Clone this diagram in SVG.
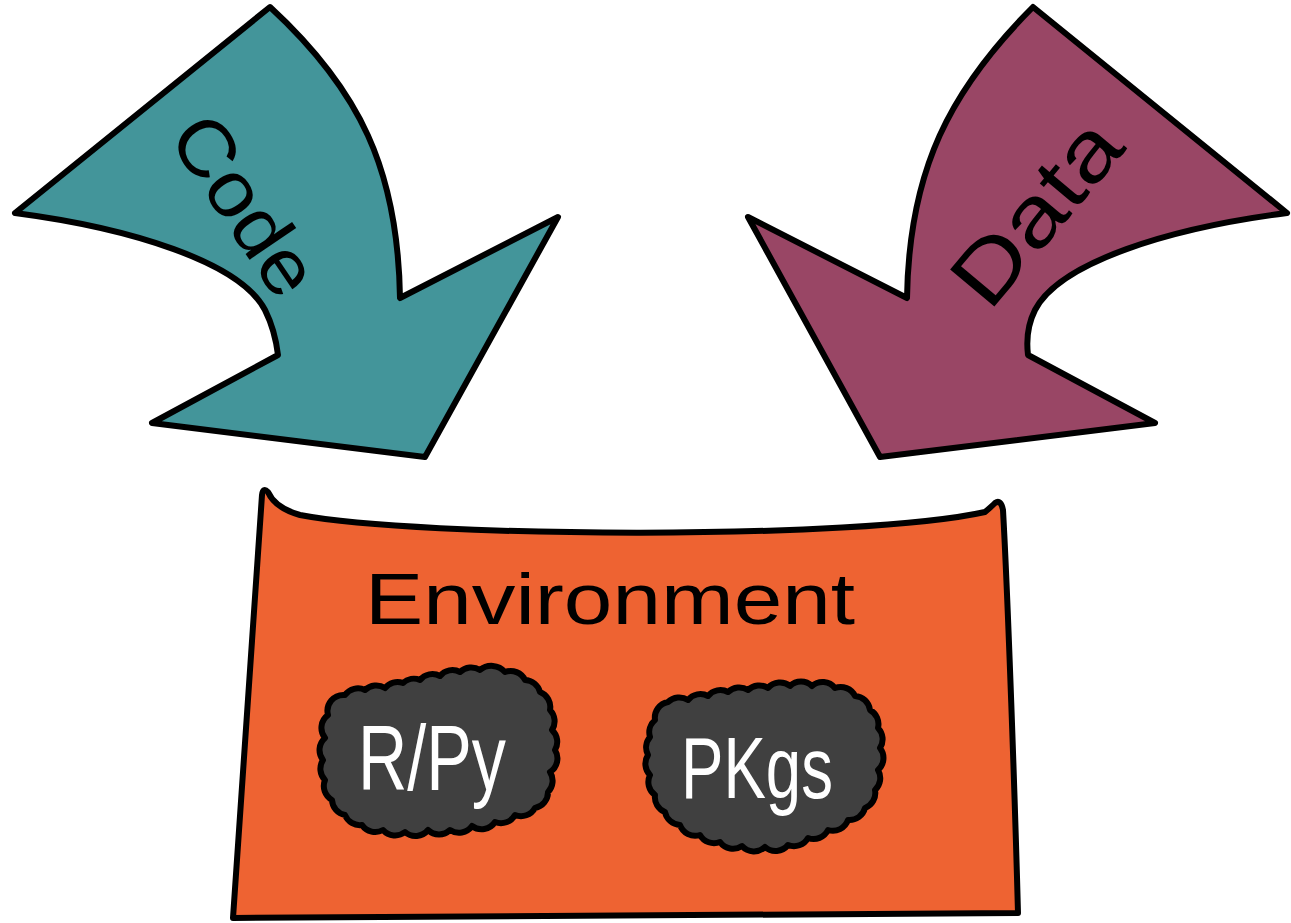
<svg xmlns="http://www.w3.org/2000/svg" width="1291" height="923" viewBox="0 0 1291 923">
<style>
.shape{stroke:#000;stroke-width:6;stroke-linejoin:round;stroke-linecap:round}
.hand{font-family:"Liberation Sans","DejaVu Sans",sans-serif}
.cloud{fill:#404040;stroke:#000;stroke-width:6;stroke-linejoin:round}
</style>
<rect width="1291" height="923" fill="#fff"/>
<g id="code-arrow">
<path class="shape" fill="#43959A" d="M270,7 L15,213 C130,228 240,262 265,310 Q275,330 278,355 L152,423 L425,457 L558,217 L400,298 C398,170 360,90 270,7 Z"/>
<text class="hand" font-size="78" fill="#000" transform="translate(245,205) rotate(56)" text-anchor="middle" dominant-baseline="central" textLength="200" lengthAdjust="spacingAndGlyphs">Code</text>
</g>
<g id="data-arrow">
<path class="shape" fill="#994665" d="M1033,7 L1287,213 C1170,228 1060,262 1035,310 Q1025,330 1028,355 L1155,423 L880,457 L748,217 L907,298 C909,170 950,90 1033,7 Z"/>
<text class="hand" font-size="84" fill="#000" transform="translate(1036,212) rotate(-50)" text-anchor="middle" dominant-baseline="central" textLength="215" lengthAdjust="spacingAndGlyphs">Data</text>
</g>
<g id="environment">
<path class="shape" fill="#EE6332" d="M233,918 L262,495 Q263,487 268,492 Q275,508 300,515 C420,538 860,540 985,512 Q992,506 995,503 Q1001,499 1003,510 C1008,600 1015,800 1018,913 Z"/>
<text class="hand" x="610" y="624" font-size="72" fill="#000" text-anchor="middle" textLength="490" lengthAdjust="spacingAndGlyphs">Environment</text>
</g>
<g id="rpy">
<path class="cloud" d="M328,715 A16,16 0 0 1 345,695 A16,16 0 0 1 365,690 A16,16 0 0 1 385,688 A16,16 0 0 1 403,683 A16,16 0 0 1 420,680 A16,16 0 0 1 440,676 A16,16 0 0 1 460,672 A16,16 0 0 1 480,670 A18,18 0 0 1 505,672 A16,16 0 0 1 525,680 A16,16 0 0 1 540,692 A16,16 0 0 1 550,710 A16,16 0 0 1 552,730 A16,16 0 0 1 555,750 A16,16 0 0 1 550,772 A16,16 0 0 1 548,792 A16,16 0 0 1 535,808 A16,16 0 0 1 515,815 A16,16 0 0 1 495,822 A16,16 0 0 1 472,826 A16,16 0 0 1 450,830 A16,16 0 0 1 428,830 A16,16 0 0 1 405,832 A16,16 0 0 1 383,830 A16,16 0 0 1 362,825 A16,16 0 0 1 345,815 A16,16 0 0 1 332,800 A16,16 0 0 1 325,780 A16,16 0 0 1 323,760 A16,16 0 0 1 325,738 A16,16 0 0 1 328,715 Z"/>
<text class="hand" x="432" y="790" font-size="92" fill="#fff" text-anchor="middle" textLength="148" lengthAdjust="spacingAndGlyphs">R/Py</text>
</g>
<g id="pkgs">
<path class="cloud" d="M655,720 A16,16 0 0 1 668,702 A16,16 0 0 1 688,700 A16,16 0 0 1 708,696 A16,16 0 0 1 728,692 A16,16 0 0 1 748,690 A16,16 0 0 1 768,688 A16,16 0 0 1 790,686 A16,16 0 0 1 812,686 A16,16 0 0 1 835,688 A16,16 0 0 1 855,696 A16,16 0 0 1 870,710 A16,16 0 0 1 878,728 A16,16 0 0 1 880,748 A16,16 0 0 1 878,770 A16,16 0 0 1 875,790 A16,16 0 0 1 865,808 A16,16 0 0 1 848,820 A16,16 0 0 1 828,830 A16,16 0 0 1 808,838 A16,16 0 0 1 788,845 A16,16 0 0 1 765,847 A16,16 0 0 1 742,846 A16,16 0 0 1 720,842 A16,16 0 0 1 700,835 A16,16 0 0 1 680,825 A16,16 0 0 1 665,812 A16,16 0 0 1 655,795 A16,16 0 0 1 650,775 A16,16 0 0 1 648,755 A16,16 0 0 1 650,737 A16,16 0 0 1 655,720 Z"/>
<text class="hand" x="757" y="798" font-size="88" fill="#fff" text-anchor="middle" textLength="152" lengthAdjust="spacingAndGlyphs">PKgs</text>
</g>
<g id="connectors"></g>
</svg>
